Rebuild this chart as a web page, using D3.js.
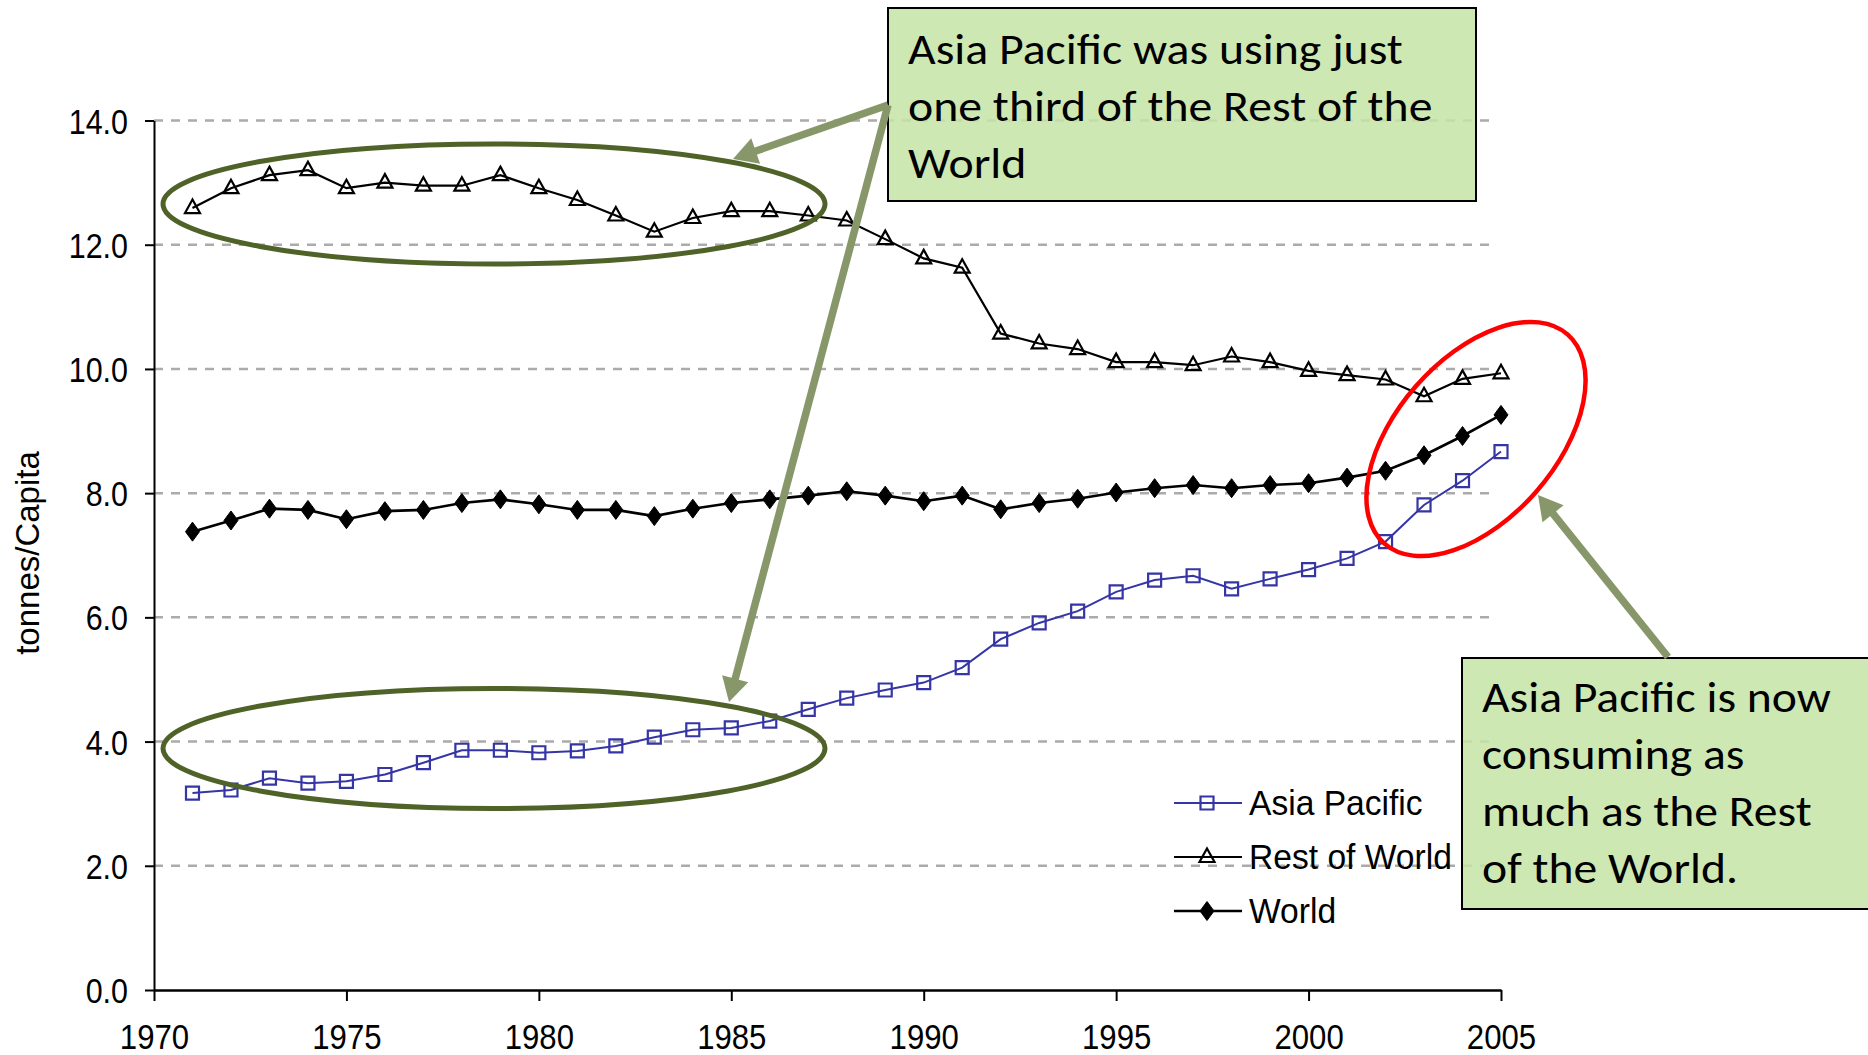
<!DOCTYPE html>
<html><head><meta charset="utf-8">
<script src="https://cdn.jsdelivr.net/npm/d3@7"></script>
<style>body{margin:0;background:#fff}svg{display:block}</style>
</head><body>
<svg id="chart" width="1868" height="1055"></svg>
<script>
// ---------------- data ----------------
const years = [1971,1972,1973,1974,1975,1976,1977,1978,1979,1980,1981,1982,1983,1984,1985,1986,1987,1988,1989,1990,1991,1992,1993,1994,1995,1996,1997,1998,1999,2000,2001,2002,2003,2004,2005];
const asiaPacific = [3.17,3.22,3.41,3.33,3.36,3.47,3.66,3.86,3.86,3.82,3.85,3.93,4.07,4.19,4.22,4.33,4.52,4.70,4.83,4.95,5.19,5.65,5.91,6.10,6.41,6.60,6.67,6.46,6.62,6.77,6.95,7.22,7.81,8.20,8.67];
const restOfWorld = [12.59,12.91,13.12,13.20,12.91,13.00,12.95,12.95,13.12,12.91,12.72,12.47,12.21,12.43,12.54,12.54,12.47,12.39,12.09,11.78,11.63,10.57,10.41,10.32,10.11,10.11,10.06,10.20,10.11,9.97,9.90,9.83,9.56,9.84,9.93];
const world = [7.38,7.56,7.75,7.73,7.58,7.71,7.73,7.84,7.90,7.82,7.73,7.73,7.63,7.75,7.84,7.90,7.96,8.03,7.96,7.87,7.96,7.74,7.84,7.91,8.01,8.08,8.13,8.08,8.13,8.16,8.25,8.36,8.61,8.92,9.26];
const seriesNames = ["Asia Pacific","Rest of World","World"];
const yTicks = [0,2,4,6,8,10,12,14];
const xTicks = [1970,1975,1980,1985,1990,1995,2000,2005];
const yAxisTitle = "tonnes/Capita";
const note1Lines = ["Asia Pacific was using just","one third of the Rest of the","World"];
const note2Lines = ["Asia Pacific is now","consuming as","much as the Rest","of the World."];

// ---------------- setup ----------------
const svg = d3.select("#chart");
const axisFont = "'Liberation Sans', Arial, sans-serif";
const noteFont = "Carlito, Lato, 'Open Sans', sans-serif";
const x = d3.scaleLinear().domain([1970, 2005]).range([154, 1501]);
const y = d3.scaleLinear().domain([0, 14]).range([990, 120.5]);

// gridlines
svg.append("g").selectAll("line").data(yTicks.filter(d => d > 0)).join("line")
  .attr("x1", x(1970)).attr("x2", 1493)
  .attr("y1", d => y(d)).attr("y2", d => y(d))
  .attr("stroke", "#ababab").attr("stroke-width", 2.5).attr("stroke-dasharray", "9,8");

// y axis
const yAxis = svg.append("g").attr("transform", `translate(${x(1970)},0)`)
  .call(d3.axisLeft(y).tickValues(yTicks).tickFormat(d3.format(".1f")).tickSize(9).tickSizeOuter(0));
yAxis.attr("font-size", 35).attr("font-family", axisFont);
yAxis.select(".domain").attr("stroke", "#000").attr("stroke-width", 2);
yAxis.selectAll(".tick line").attr("stroke", "#000").attr("stroke-width", 2);
yAxis.selectAll(".tick text").attr("x", 0).attr("dy", "0.36em").attr("fill", "#000")
  .attr("text-anchor", "end").attr("transform", "translate(-26,0) scale(0.87,1)");

// x axis
const xAxis = svg.append("g").attr("transform", `translate(0,${y(0)})`)
  .call(d3.axisBottom(x).tickValues(xTicks).tickFormat(d3.format("d")).tickSize(11).tickSizeOuter(0));
xAxis.attr("font-size", 35).attr("font-family", axisFont);
xAxis.select(".domain").attr("stroke", "#000").attr("stroke-width", 2.5);
xAxis.selectAll(".tick line").attr("stroke", "#000").attr("stroke-width", 2);
xAxis.selectAll(".tick text").attr("y", 0).attr("dy", 0).attr("fill", "#000")
  .attr("transform", "translate(0,58.5) scale(0.89,1)");

// y axis title
svg.append("text").text(yAxisTitle)
  .attr("transform", "translate(39,553) rotate(-90)")
  .attr("text-anchor", "middle").attr("font-family", axisFont).attr("font-size", 33).attr("fill", "#000");

// ---------------- series ----------------
const triPath = "M0,-8.5L7.5,5L-7.5,5Z";
const sqPath = "M-6.5,-6.5H6.5V6.5H-6.5Z";
const diaPath = "M0,-9.5L7,0L0,9.5L-7,0Z";
const series = [
  {name: seriesNames[0], values: asiaPacific, color: "#3535a6", width: 2, marker: sqPath, fill: "none", mstroke: 2.2},
  {name: seriesNames[1], values: restOfWorld, color: "#000", width: 2.2, marker: triPath, fill: "none", mstroke: 2.2},
  {name: seriesNames[2], values: world, color: "#000", width: 2.6, marker: diaPath, fill: "#000", mstroke: 1}
];
const line = d3.line().x((d, i) => x(years[i])).y(d => y(d));
series.forEach(s => {
  const g = svg.append("g");
  g.append("path").datum(s.values).attr("d", line)
    .attr("fill", "none").attr("stroke", s.color).attr("stroke-width", s.width);
  g.selectAll("path.m").data(s.values).join("path").attr("class", "m")
    .attr("d", s.marker)
    .attr("transform", (d, i) => `translate(${x(years[i])},${y(d)})`)
    .attr("fill", s.fill).attr("stroke", s.color).attr("stroke-width", s.mstroke);
});

// legend
const legendY = [803, 857, 911];
const lg = svg.append("g");
series.forEach((s, i) => {
  const yy = legendY[i];
  lg.append("line").attr("x1", 1174).attr("x2", 1242).attr("y1", yy).attr("y2", yy)
    .attr("stroke", s.color).attr("stroke-width", s.width);
  lg.append("path").attr("d", s.marker).attr("transform", `translate(1207,${yy})`)
    .attr("fill", s.fill).attr("stroke", s.color).attr("stroke-width", s.mstroke);
  lg.append("text").text(s.name).attr("x", 0).attr("y", 0)
    .attr("transform", `translate(1249,${yy + 12}) scale(0.96,1)`)
    .attr("font-family", axisFont).attr("font-size", 35).attr("fill", "#000");
});

// ---------------- annotations ----------------
const olive = "#4f6228";
svg.append("ellipse").attr("cx", 494).attr("cy", 204).attr("rx", 331).attr("ry", 60)
  .attr("fill", "none").attr("stroke", olive).attr("stroke-width", 5);
svg.append("ellipse").attr("cx", 494).attr("cy", 748.5).attr("rx", 331).attr("ry", 60)
  .attr("fill", "none").attr("stroke", olive).attr("stroke-width", 5);
svg.append("ellipse").attr("cx", 0).attr("cy", 0).attr("rx", 139).attr("ry", 80)
  .attr("transform", "translate(1476,439) rotate(-48.8)")
  .attr("fill", "none").attr("stroke", "#ff0000").attr("stroke-width", 4.5);

// note boxes
function noteBox(lines, bx, by, bw, bh, tx, baselines, targetW) {
  const g = svg.append("g");
  g.append("rect").attr("x", bx).attr("y", by).attr("width", bw).attr("height", bh)
    .attr("fill", "#c6e4a6").attr("fill-opacity", 0.86).attr("stroke", "#000").attr("stroke-width", 2);
  const texts = lines.map((t, i) => g.append("text").text(t)
    .attr("x", 0).attr("y", 0)
    .attr("font-family", noteFont).attr("font-size", 44).attr("fill", "#000"));
  const w0 = texts[0].node().getComputedTextLength();
  const sx = targetW / w0;
  texts.forEach((t, i) => t.attr("transform", `translate(${tx},${baselines[i]}) scale(${sx},1)`));
  return g;
}
noteBox(note1Lines, 888, 8, 588, 193, 908, [64, 121, 177.5], 495);
noteBox(note2Lines, 1462, 658, 430, 251, 1482, [711.5, 768.5, 826, 883], 349);

// arrows
const arrowColor = "#87976a";
function arrow(x1, y1, x2, y2, sw, hl, hw) {
  const dx = x2 - x1, dy = y2 - y1, len = Math.hypot(dx, dy);
  const ux = dx / len, uy = dy / len, px = -uy, py = ux;
  const bx = x2 - ux * hl, by = y2 - uy * hl;
  const g = svg.append("g");
  g.append("line").attr("x1", x1).attr("y1", y1).attr("x2", bx + ux * 2).attr("y2", by + uy * 2)
    .attr("stroke", arrowColor).attr("stroke-width", sw);
  g.append("path").attr("d", `M${x2},${y2}L${bx + px * hw / 2},${by + py * hw / 2}L${bx - px * hw / 2},${by - py * hw / 2}Z`)
    .attr("fill", arrowColor);
}
arrow(888, 105, 733, 159, 7.5, 24, 27);
arrow(888, 105, 729, 702, 7.5, 24, 27);
arrow(1668, 657, 1538, 495, 7.5, 24, 27);
</script>
</body></html>
